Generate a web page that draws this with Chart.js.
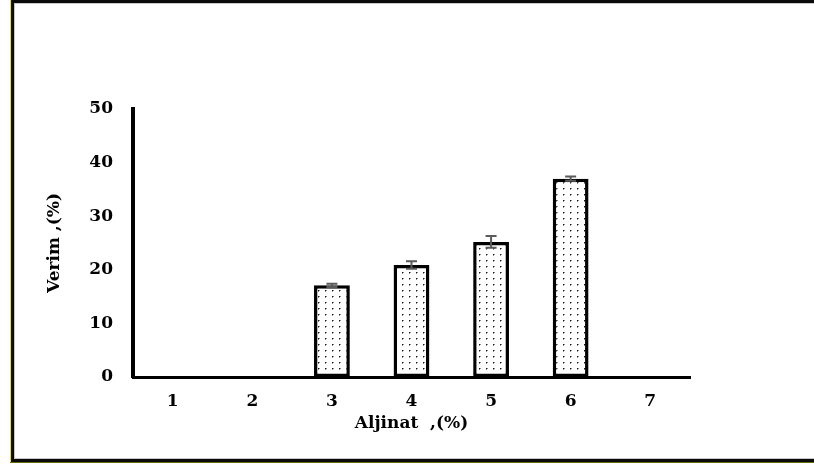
<!DOCTYPE html>
<html>
<head>
<meta charset="utf-8">
<script src="https://cdn.jsdelivr.net/npm/chart.js@4.4.1/dist/chart.umd.min.js"></script>
<style>
  html, body { margin: 0; padding: 0; background: #ffffff; overflow: hidden; }
  canvas { display: block; }
</style>
</head>
<body>
<canvas id="c" width="814" height="466"></canvas>
<script>
// ---- data ----
const categories = ['1', '2', '3', '4', '5', '6', '7'];
const yieldValues = [null, null, 17.1, 20.9, 25.2, 37.0, null];
const errorValues = [null, null, 0.3, 0.7, 1.1, 0.4, null];
const yTickValues = [0, 10, 20, 30, 40, 50];
const xTitle = 'Aljinat  ,(%)';
const yTitle = 'Verim ,(%)';

// ---- dotted fill pattern ----
function makePattern() {
  const p = document.createElement('canvas');
  p.width = 7; p.height = 6;
  const g = p.getContext('2d');
  g.fillStyle = '#ffffff';
  g.fillRect(0, 0, 7, 6);
  g.fillStyle = '#1a1a1a';
  g.fillRect(3, 2, 1, 1);
  g.fillStyle = '#8a8a8a';
  g.fillRect(4, 2, 1, 1);
  g.fillRect(3, 3, 1, 1);
  return g.createPattern(p, 'repeat');
}
const ctx0 = document.getElementById('c').getContext('2d');
const dotPattern = makePattern();

const fontFamily = '"DejaVu Serif", "Liberation Serif", serif';

// frame plugin
const framePlugin = {
  id: 'frame',
  afterDraw(chart) {
    const c = chart.ctx;
    c.save();
    c.fillStyle = '#c8c8c8';
    c.fillRect(14, 3, 800, 1);
    c.fillRect(14, 3, 1, 455);
    c.fillRect(14, 458, 800, 1);
    c.fillStyle = '#0a0a0a';
    c.fillRect(11, 0, 803, 3);
    c.fillRect(11, 0, 3, 462);
    c.fillRect(11, 459, 803, 3);
    c.fillStyle = '#e8e800';
    c.fillRect(10, 0, 1, 463);
    c.fillStyle = '#6b6b10';
    c.fillRect(10, 462, 804, 1);
    c.restore();
  }
};

// error bar plugin
const errorBarPlugin = {
  id: 'errorBars',
  afterDatasetsDraw(chart) {
    const meta = chart.getDatasetMeta(0);
    const yScale = chart.scales.y;
    const c = chart.ctx;
    c.save();
    c.strokeStyle = '#5a5a5a';
    c.lineWidth = 2;
    meta.data.forEach((bar, i) => {
      const v = yieldValues[i];
      const e = errorValues[i];
      if (v == null || e == null) return;
      const x = bar.x;
      const yTop = yScale.getPixelForValue(v + e);
      const yBot = yScale.getPixelForValue(v - e);
      const hw = 5.5;
      c.beginPath();
      c.moveTo(x, yTop); c.lineTo(x, yBot);
      c.moveTo(x - hw, yTop); c.lineTo(x + hw, yTop);
      c.moveTo(x - hw, yBot); c.lineTo(x + hw, yBot);
      c.stroke();
    });
    c.restore();
  }
};

new Chart(ctx0, {
  type: 'bar',
  data: {
    labels: categories,
    datasets: [{
      data: yieldValues,
      backgroundColor: dotPattern,
      borderColor: '#000000',
      borderWidth: 3.5,
      borderSkipped: false,
      barPercentage: 0.45,
      categoryPercentage: 1.0
    }]
  },
  options: {
    responsive: false,
    animation: false,
    devicePixelRatio: 1,
    layout: { padding: { left: 0, top: 109, right: 124, bottom: 0 } },
    plugins: {
      legend: { display: false },
      tooltip: { enabled: false },
      title: { display: false }
    },
    scales: {
      x: {
        afterFit(scale) { scale.height = 89; },
        grid: { display: false, drawTicks: false },
        border: { display: true, color: '#000000', width: 3 },
        ticks: {
          color: '#000000',
          padding: 14,
          font: { family: fontFamily, size: 17, weight: 'bold' }
        },
        title: {
          display: true,
          text: xTitle,
          color: '#000000',
          padding: { top: 0, bottom: 32 },
          font: { family: fontFamily, size: 17, weight: 'bold' }
        }
      },
      y: {
        min: 0,
        max: 50,
        afterFit(scale) { scale.width = 133; },
        afterBuildTicks(scale) { scale.ticks = yTickValues.map(v => ({ value: v })); },
        grid: { display: false, drawTicks: false },
        border: { display: true, color: '#000000', width: 4 },
        ticks: {
          color: '#000000',
          padding: 20,
          stepSize: 10,
          font: { family: fontFamily, size: 17, weight: 'bold' }
        },
        title: {
          display: true,
          text: yTitle,
          color: '#000000',
          padding: { top: 44, bottom: 0 },
          font: { family: fontFamily, size: 17, weight: 'bold' }
        }
      }
    }
  },
  plugins: [framePlugin, errorBarPlugin]
});
</script>
</body>
</html>
